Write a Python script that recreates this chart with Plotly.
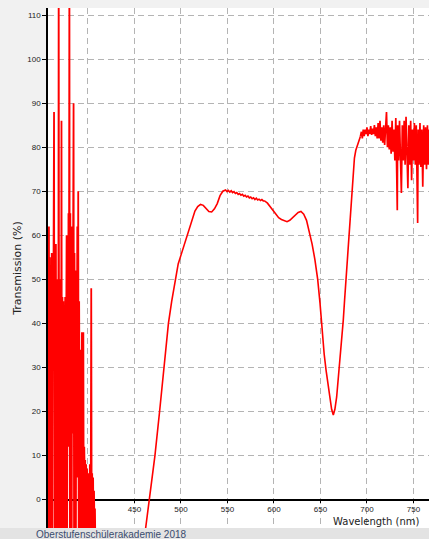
import plotly.graph_objects as go

# ---- data (wavelength in nm, transmission in %) ----
wl_left = [357.0, 357.5, 358.0, 358.5, 359.0, 359.5, 360.0, 360.5, 361.0, 361.5,
           362.0, 362.5, 363.0, 363.5, 364.0, 364.5, 365.0, 365.5, 366.0, 366.5,
           367.0, 367.5, 368.0, 368.5, 369.0, 369.5, 370.0, 370.5, 371.0, 371.5,
           372.0, 372.5, 373.0, 373.5, 374.0, 374.5, 375.0, 375.5, 376.0, 376.5,
           377.0, 377.5, 378.0, 378.5, 379.0, 379.5, 380.0, 380.5, 381.0, 381.5,
           382.0, 382.5, 383.0, 383.5, 384.0, 384.5, 385.0, 385.5, 386.0, 386.5,
           387.0, 387.5, 388.0, 388.5, 389.0, 389.5, 390.0, 390.5, 391.0, 391.5,
           392.0, 392.5, 393.0, 393.5, 394.0, 394.5, 395.0, 395.5, 396.0, 396.5,
           397.0, 397.5, 398.0, 398.5, 399.0, 399.5, 400.0, 400.5, 401.0, 401.5,
           402.0, 402.5, 403.0, 403.5, 404.0, 404.5, 405.0, 405.5, 406.0, 406.5,
           407.0, 407.5, 408.0, 409.0]
t_left = [40, -10, 62, 20, 55, -8, 52, 10, 56, -10,
          48, 30, 58, 88, -10, 45, 20, 58, -10, 40,
          15, 50, -10, 125, -10, 50, 5, 42, -10, 86,
          -10, 46, 10, 45, -10, 38, 20, 46, -10, 35,
          60, -10, 55, 12, 65, 30, 125, -10, 65, 25,
          60, -10, 62, 15, 59, 90, -10, 56, 20, 52,
          -10, 48, 30, 62, 5, 70, -10, 45, 15, 34,
          -10, 30, 10, 38, -10, 26, 38, -10, 12, 5,
          9, -10, 8, 2, 7, -10, 6, -10, 3, -3,
          8, -10, 4, 48, -10, 6, -5, 5, -10, 2,
          -8, -2, -12, -20]

wl_main = [409, 435, 455, 462, 465.6, 472, 477, 482, 486.5, 490, 494, 497, 500, 503,
           507, 511, 515, 518, 521, 524, 527, 530, 533, 536, 539, 542, 545,
           548, 549.5, 551, 552.5, 554, 555.5, 557, 558.5, 560, 561.5, 563, 564.5,
           566, 567.5, 569, 570.5, 572, 573.5, 575, 576.5, 578, 579.5, 581, 582.5,
           584, 585.5, 587, 588.5, 590, 593, 596, 599, 602, 605, 608, 611, 614,
           617, 620, 623, 626, 629, 632, 635, 638, 641, 644, 647, 649.5, 652,
           654, 656, 658, 660, 662, 663.8, 665.5, 667.4, 669, 671, 673, 674.5,
           676, 678, 680, 681.7, 683.5, 685, 686.5, 688, 690, 692, 693]
t_main = [-20, -40, -18, -6.7, 0, 10, 20, 30, 40, 45, 50, 53.5, 55.5, 57.5,
          60, 63, 65.5, 66.5, 67, 66.8, 66, 65.4, 65.3, 66, 67.2, 69, 70,
          70.3, 69.9, 70.2, 69.8, 70.1, 69.7, 69.9, 69.5, 69.7, 69.3, 69.5, 69.1,
          69.3, 68.9, 69.1, 68.7, 68.9, 68.5, 68.7, 68.3, 68.5, 68.1, 68.4, 68.0,
          68.2, 67.9, 68.1, 67.8, 67.8, 67.3, 66.5, 65.7, 64.8, 64.0, 63.6, 63.3, 63.1,
          63.4, 64.0, 64.8, 65.2, 65.4, 64.8, 63.4, 61, 58, 54.5, 50, 44.6, 37,
          33, 29.4, 26, 23.3, 20.5, 19.2, 20.5, 23.3, 27, 31, 36, 40.7,
          45.5, 52, 58, 63.4, 70, 74.8, 77.5, 79.3, 80.5, 81.4, 82.5]

wl_right = [693, 694, 695, 696, 697, 698, 699, 700, 701, 702, 703, 704, 705, 706,
            707, 708, 709, 710, 711, 712, 713, 714, 715, 716, 717, 718, 719, 720,
            721, 722, 723, 724, 725, 726, 727, 728, 729, 730, 731, 732, 732.6, 733,
            734, 735, 736, 737, 738, 739, 740, 741, 742, 743, 744, 745, 746, 747,
            748, 749, 750, 751, 752, 753, 754, 754.5, 755, 756, 757, 758, 759, 760,
            761, 762, 763, 764, 765, 766, 767]
t_right = [82.5, 83.5, 82, 84, 82.5, 84, 83, 84.5, 82.5, 84, 83, 84.8, 82.8, 84.2,
           83, 85, 82.5, 84.5, 82, 85.5, 82, 86, 81.5, 84.5, 81, 85, 80.5, 85.5,
           88, 80, 85, 79.5, 84.5, 78.5, 86, 79, 84, 77, 86.6, 74, 65.7, 85,
           77, 86, 76, 69.6, 85, 77, 86, 76, 86.9, 77, 70.7, 85, 76, 86,
           72.5, 84, 77, 85.5, 76, 85, 75, 62.8, 84, 76, 85.5, 75.5, 84, 71,
           85, 76, 84.5, 75, 85, 76, 84]

x_ticks = [400, 450, 500, 550, 600, 650, 700, 750]
y_ticks = [0, 10, 20, 30, 40, 50, 60, 70, 80, 90, 100, 110]

x_range = [357, 766.7]
y_range = [-6.45, 111.6]
x_axis_pos = (0 - y_range[0]) / (y_range[1] - y_range[0])

RED = "#ff0000"
fig = go.Figure()
for xs, ys, w in [(wl_left, t_left, 1.8), (wl_main, t_main, 1.6), (wl_right, t_right, 1.7)]:
    fig.add_trace(go.Scatter(x=xs, y=ys, mode="lines",
                             line=dict(color=RED, width=w),
                             hoverinfo="skip", showlegend=False))

grid = dict(showgrid=True, gridcolor="#b4b4b4", gridwidth=1, griddash="6px,4px")
tickfont = dict(family="Liberation Sans", size=8, color="#222222")

fig.update_layout(
    width=429, height=539,
    margin=dict(l=48, r=0, t=8, b=11),
    paper_bgcolor="#f1f1f1",
    plot_bgcolor="#ffffff",
    xaxis=dict(range=x_range, tickvals=x_ticks, ticktext=[str(v) for v in x_ticks],
               anchor="free", position=x_axis_pos,
               showline=True, linecolor="#000000", linewidth=1.5,
               ticks="outside", ticklen=3, tickcolor="#000000",
               ticklabelstandoff=-1,
               tickfont=tickfont, zeroline=False, layer="below traces", **grid),
    yaxis=dict(range=y_range, tickvals=y_ticks, ticktext=[str(v) for v in y_ticks],
               showline=True, linecolor="#000000", linewidth=1.5,
               ticks="outside", ticklen=4, tickcolor="#000000",
               tickfont=tickfont, zeroline=False,
               title=dict(text="Transmission (%)", standoff=3,
                          font=dict(family="DejaVu Sans", size=11, color="#222222")),
               **grid),
    annotations=[
        dict(text="Wavelength (nm)", xref="paper", yref="paper",
             x=1.0, y=0.0, xanchor="right", yanchor="bottom", showarrow=False,
             xshift=-8, yshift=-1,
             font=dict(family="DejaVu Sans", size=10, color="#222222")),
        dict(text="Oberstufenschülerakademie 2018", xref="paper", yref="paper",
             x=0, y=0, xanchor="left", yanchor="top", showarrow=False,
             xshift=-14, yshift=1,
             font=dict(family="Liberation Sans", size=10, color="#3a4c6e")),
    ],
    shapes=[dict(type="rect", xref="paper", yref="paper", x0=-0.2, x1=1.0,
                 y0=-0.03, y1=0, fillcolor="#e3e3e3", line=dict(width=0),
                 layer="below")],
)

fig.write_html("out.html")
